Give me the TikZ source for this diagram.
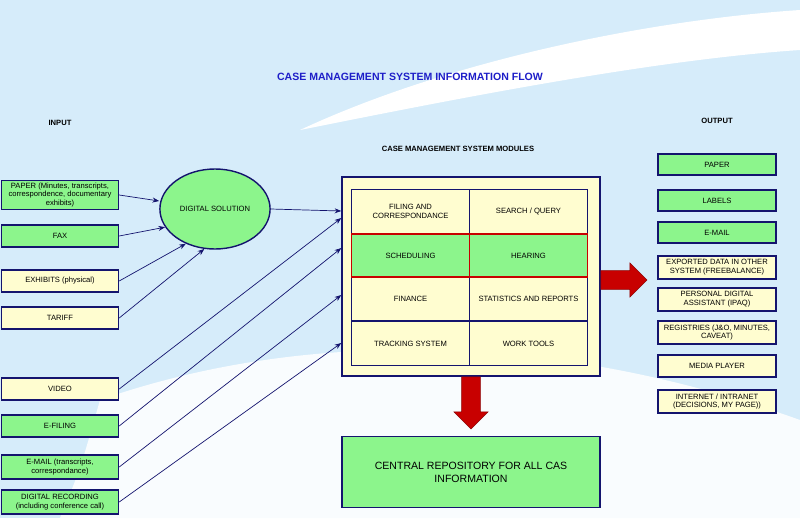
\documentclass[tikz,border=0pt]{standalone}
\usepackage{fontspec}
\setmainfont{Liberation Sans}
\usetikzlibrary{shapes.geometric, shapes.arrows, arrows.meta, backgrounds}
\definecolor{sky}{RGB}{214, 236, 250}
\definecolor{boxgreen}{RGB}{140, 245, 140}
\definecolor{boxyellow}{RGB}{255, 253, 208}
\definecolor{navy}{RGB}{20, 20, 110}
\definecolor{darkred}{RGB}{200, 0, 0}
\definecolor{titleblue}{RGB}{30, 30, 200}

\tikzset{
  box/.style={draw=navy, line width=1.2, align=center, inner sep=1pt,
              font=\fontsize{6.5}{7.5}\selectfont},
  gbox/.style={box, fill=boxgreen},
  ybox/.style={box, fill=boxyellow},
  flow/.style={->, >=Stealth, draw=navy, line width=0.6},
  bigarrow/.style={single arrow, fill=darkred, draw=darkred!70!black, inner sep=0.18cm,
                   minimum width=34*0.03cm, single arrow head extend=0.15cm}
}

\begin{document}
\begin{tikzpicture}[x=0.03cm, y=-0.03cm]

  % background
  \fill[sky] (0, 0) rectangle (800, 518);
  \fill[white] (300, 130) .. controls (450, 60) and (650, 20) .. (800, 10)
               -- (800, 50) .. controls (650, 60) and (450, 100) .. (300, 130);
  \fill[white!85!sky] (100, 400) .. controls (300, 330) and (550, 330) .. (800, 420)
               -- (800, 518) -- (60, 518) .. controls (80, 470) .. (100, 400);
  \useasboundingbox (0, 0) rectangle (800, 518);

  \node[font=\bfseries\small, text=titleblue] (title) at (410, 77) {CASE MANAGEMENT SYSTEM INFORMATION FLOW};
  \node[font=\bfseries\fontsize{6.5}{8}\selectfont] (input) at (60, 123) {INPUT};
  \node[font=\bfseries\fontsize{6.5}{8}\selectfont] (output) at (717, 121) {OUTPUT};
  \node[font=\bfseries\fontsize{6.5}{8}\selectfont] (modtitle) at (458, 149) {CASE MANAGEMENT SYSTEM MODULES};

  % inputs
  \node[gbox, minimum width=117*0.03cm, minimum height=29*0.03cm] (paper) at (60, 195) {PAPER (Minutes, transcripts,\\correspondence, documentary\\exhibits)};
  \node[gbox, minimum width=117*0.03cm, minimum height=22*0.03cm] (fax) at (60, 236) {FAX};
  \node[ybox, minimum width=117*0.03cm, minimum height=22*0.03cm] (exhibits) at (60, 281) {EXHIBITS (physical)};
  \node[ybox, minimum width=117*0.03cm, minimum height=22*0.03cm] (tariff) at (60, 318) {TARIFF};
  \node[ybox, minimum width=117*0.03cm, minimum height=22*0.03cm] (video) at (60, 389) {VIDEO};
  \node[gbox, minimum width=117*0.03cm, minimum height=22*0.03cm] (efiling) at (60, 426) {E-FILING};
  \node[gbox, minimum width=117*0.03cm, minimum height=24*0.03cm] (email) at (60, 467) {E-MAIL (transcripts,\\correspondance)};
  \node[gbox, minimum width=117*0.03cm, minimum height=24*0.03cm] (recording) at (60, 502) {DIGITAL RECORDING\\(including conference call)};

  \node[ellipse, draw=navy, line width=1.2, fill=boxgreen, minimum width=100*0.03cm, minimum height=80*0.03cm,
        font=\fontsize{6.5}{7.5}\selectfont] (digital) at (215, 209) {DIGITAL SOLUTION};

  % modules
  \node[ybox, minimum width=258*0.03cm, minimum height=199*0.03cm] (modules) at (471, 276.5) {};
  \foreach \name/\x/\y/\txt/\sty in {filing/410.5/211.5/{FILING AND\\CORRESPONDANCE}/ybox,
      search/528.5/211.5/{SEARCH / QUERY}/ybox,
      finance/410.5/299/{FINANCE}/ybox,
      stats/528.5/299/{STATISTICS AND REPORTS}/ybox,
      tracking/410.5/343.5/{TRACKING SYSTEM}/ybox,
      worktools/528.5/343.5/{WORK TOOLS}/ybox} {
    \node[\sty, minimum width=118*0.03cm, minimum height=44*0.03cm] (\name) at (\x, \y) {\txt};
  }
  \node[gbox, draw=darkred, minimum width=118*0.03cm, minimum height=43*0.03cm] (scheduling) at (410.5, 255.5) {SCHEDULING};
  \node[gbox, draw=darkred, minimum width=118*0.03cm, minimum height=43*0.03cm] (hearing) at (528.5, 255.5) {HEARING};

  \node[gbox, minimum width=258*0.03cm, minimum height=71*0.03cm, font=\small] (central) at (471, 472) {CENTRAL REPOSITORY FOR ALL CAS\\INFORMATION};

  % outputs
  \foreach \name/\y/\h/\txt/\sty in {opaper/164.5/21/{PAPER}/gbox,
      olabels/200.5/21/{LABELS}/gbox,
      oemail/232.5/21/{E-MAIL}/gbox,
      oexport/267.5/23/{EXPORTED DATA IN OTHER\\SYSTEM (FREEBALANCE)}/ybox,
      opda/299.5/23/{PERSONAL DIGITAL\\ASSISTANT (IPAQ)}/ybox,
      oregistry/332.5/23/{REGISTRIES (J\&O, MINUTES,\\CAVEAT)}/ybox,
      omedia/366/22/{MEDIA PLAYER}/ybox,
      ointernet/401.5/23/{INTERNET / INTRANET\\(DECISIONS, MY PAGE))}/ybox} {
    \node[\sty, minimum width=118*0.03cm, minimum height=\h*0.03cm] (\name) at (717, \y) {\txt};
  }

  % connectors
  \draw[flow] (paper.east) -- (digital.west |- 0, 201);
  \draw[flow] (fax.east) -- (digital.200);
  \draw[flow] (exhibits.east) -- (digital.230);
  \draw[flow] (tariff.east) -- (digital.255);
  \draw[flow] (digital.east) -- (modules.west |- 0, 211);
  \draw[flow] (video.east) -- (modules.west |- 0, 218);
  \draw[flow] (efiling.east) -- (modules.west |- 0, 248);
  \draw[flow] (email.east) -- (modules.west |- 0, 295);
  \draw[flow] (recording.east) -- (modules.west |- 0, 343);

  \node[bigarrow, minimum height=46*0.03cm, anchor=tail] (toout) at (modules.east |- 0, 280) {};
  \node[bigarrow, minimum height=52*0.03cm, shape border rotate=270, anchor=tail] (todown) at (modules.south) {};

\end{tikzpicture}
\end{document}
